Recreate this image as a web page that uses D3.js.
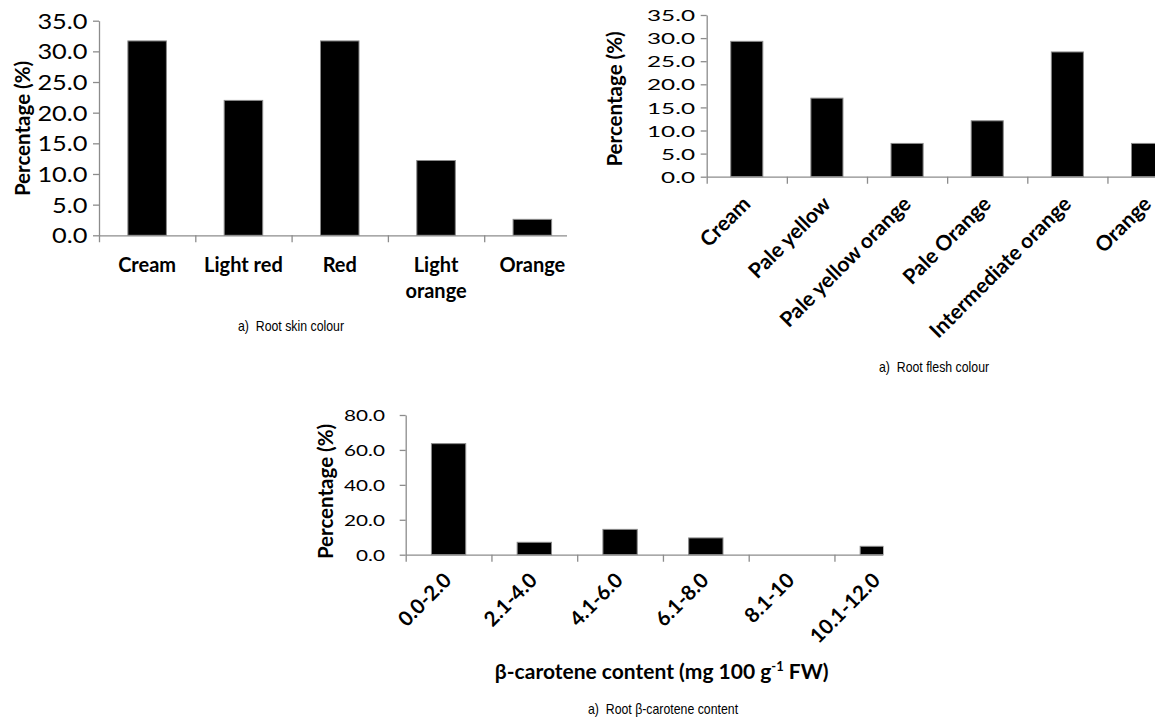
<!DOCTYPE html>
<html><head><meta charset="utf-8">
<script src="https://cdn.jsdelivr.net/npm/d3@7"></script>
<style>
body{margin:0;background:#fff}
svg{display:block}
text{font-family:Lato,"Open Sans",sans-serif;fill:#000}
.cap{font-family:"Liberation Sans Narrow","Liberation Sans",Arial,sans-serif;white-space:pre}
</style>
</head><body>
<svg id="c" width="1158" height="722"></svg>
<script>
// ---------- data ----------
const skinCategories = ["Cream", "Light red", "Red", "Light orange", "Orange"];
const skinValues = [31.7, 22.0, 31.7, 12.2, 2.6];
const fleshCategories = ["Cream", "Pale yellow", "Pale yellow orange", "Pale Orange", "Intermediate orange", "Orange"];
const fleshValues = [29.3, 17.0, 7.2, 12.1, 27.0, 7.2];
const caroteneCategories = ["0.0-2.0", "2.1-4.0", "4.1-6.0", "6.1-8.0", "8.1-10", "10.1-12.0"];
const caroteneValues = [63.6, 7.1, 14.5, 9.6, 0.0, 4.8];
const percentTicks = [0, 5, 10, 15, 20, 25, 30, 35];
const caroteneTicks = [0, 20, 40, 60, 80];
const yTitle = "Percentage (%)";
const skinCaption = "a)  Root skin colour";
const fleshCaption = "a)  Root flesh colour";
const caroteneCaption = "a)  Root \u03b2-carotene content";

// ---------- layout ----------
const svg = d3.select("#c");
const AXIS = "#8c8c8c";
const fmt = d3.format(".1f");

const charts = [
  {id:"skin", cats:skinCategories, vals:skinValues, ticks:percentTicks, ymax:35,
   x0:99, step:96.3, y0:235.3, y1:20.7, clipX:567,
   tickFont:20.8, tickSx:1.22, labelRight:87.5,
   rotate:false, catFont:20, catY:272, catLine:25.5,
   title:{x:22.5, y:128.5, size:20.5},
   caption:{text:skinCaption, x:238, y:331}},
  {id:"flesh", cats:fleshCategories, vals:fleshValues, ticks:percentTicks, ymax:35,
   x0:706.7, step:80.15, y0:176.7, y1:15, clipX:1155,
   tickFont:15.7, tickSx:1.55, labelRight:695,
   rotate:true, catFont:21, rdx:5, rdy:28.5,
   title:{x:615, y:99, size:20.5},
   caption:{text:fleshCaption, x:879, y:372}},
  {id:"carotene", cats:caroteneCategories, vals:caroteneValues, ticks:caroteneTicks, ymax:80,
   x0:405.7, step:85.75, y0:554.7, y1:415, clipX:883.3,
   tickFont:16.2, tickSx:1.28, labelRight:385,
   rotate:true, catFont:20.5, rdx:4, rdy:27,
   title:{x:326, y:491.5, size:20.5},
   caption:{text:caroteneCaption, x:588, y:714}}
];

charts.forEach(cfg => {
  const n = cfg.cats.length;
  const g = svg.append("g");
  const x = d3.scaleBand().domain(cfg.cats)
    .range([cfg.x0, cfg.x0 + cfg.step * n]).paddingInner(0.6).paddingOuter(0.3);
  const y = d3.scaleLinear().domain([0, cfg.ymax]).range([cfg.y0, cfg.y1]);
  const xb = d3.scaleLinear().domain([0, n]).range(x.range());

  const clipId = "clip-" + cfg.id;
  svg.append("defs").append("clipPath").attr("id", clipId)
    .append("rect").attr("x", cfg.x0 - 20).attr("y", 0)
    .attr("width", cfg.clipX - cfg.x0 + 20).attr("height", cfg.y0 + 20);

  const plot = g.append("g").attr("clip-path", `url(#${clipId})`);

  // bars
  plot.selectAll("rect.bar").data(cfg.cats).join("rect").attr("class","bar")
    .attr("x", d => x(d))
    .attr("y", (d,i) => y(cfg.vals[i]))
    .attr("width", x.bandwidth())
    .attr("height", (d,i) => cfg.y0 - y(cfg.vals[i]))
    .attr("fill", "#000").attr("stroke", "#8a8a8a").attr("stroke-width", 1);

  // x axis (boundary ticks)
  const xa = plot.append("g").attr("transform", `translate(0,${cfg.y0})`)
    .call(d3.axisBottom(xb).tickValues(d3.range(n)).tickFormat("").tickSizeOuter(0).tickSizeInner(7));
  xa.selectAll("path,line").attr("stroke", AXIS).attr("stroke-width", 1.3);

  // y axis
  const ya = g.append("g").attr("transform", `translate(${cfg.x0},0)`)
    .call(d3.axisLeft(y).tickValues(cfg.ticks).tickFormat(fmt).tickSizeInner(6).tickSizeOuter(0));
  ya.selectAll("path,line").attr("stroke", AXIS).attr("stroke-width", 1.3);
  ya.attr("font-family", null).attr("font-size", cfg.tickFont);
  ya.selectAll("text")
    .attr("x", null).attr("dy", "0.36em")
    .attr("fill", "#1a1a1a")
    .attr("transform", `translate(${cfg.labelRight - cfg.x0},0) scale(${cfg.tickSx},1)`);

  // category labels
  if (!cfg.rotate) {
    const lab = g.append("g").attr("font-weight", 700).attr("font-size", cfg.catFont).attr("text-anchor", "middle");
    lab.selectAll("text").data(cfg.cats).join("text")
      .attr("x", d => x(d) + x.bandwidth()/2)
      .attr("y", cfg.catY)
      .each(function(d) {
        const t = d3.select(this);
        t.text(d);
        if (this.getComputedTextLength() > x.step() * 0.92) {
          t.text(null);
          d.split(" ").forEach((w, k) => {
            t.append("tspan").attr("x", x(d) + x.bandwidth()/2).attr("dy", k ? cfg.catLine : 0).text(w);
          });
        }
      });
  } else {
    const lab = g.append("g").attr("font-weight", 700).attr("font-size", cfg.catFont).attr("text-anchor", "end");
    lab.selectAll("text").data(cfg.cats).join("text")
      .attr("transform", d => `translate(${x(d) + x.bandwidth()/2 + cfg.rdx},${cfg.y0 + cfg.rdy}) rotate(-45)`)
      .text(d => d);
  }

  // y title
  g.append("text")
    .attr("transform", `translate(${cfg.title.x},${cfg.title.y}) rotate(-90)`)
    .attr("text-anchor", "middle").attr("dy", "0.35em")
    .attr("font-weight", 700).attr("font-size", cfg.title.size)
    .text(yTitle);

  // caption
  g.append("text").attr("class", "cap")
    .attr("transform", `translate(${cfg.caption.x},${cfg.caption.y}) scale(0.88,1)`)
    .attr("font-size", 14).attr("fill", "#222")
    .text(cfg.caption.text);
});

// x-axis title of beta-carotene chart
const xt = svg.append("text")
  .attr("x", 661.7).attr("y", 679.3)
  .attr("text-anchor", "middle").attr("font-weight", 700).attr("font-size", 21);
xt.append("tspan").text("\u03b2-carotene content (mg 100 g");
xt.append("tspan").attr("font-size", 13).attr("dy", -8).text("-1");
xt.append("tspan").attr("dy", 8).text(" FW)");
</script>
</body></html>
